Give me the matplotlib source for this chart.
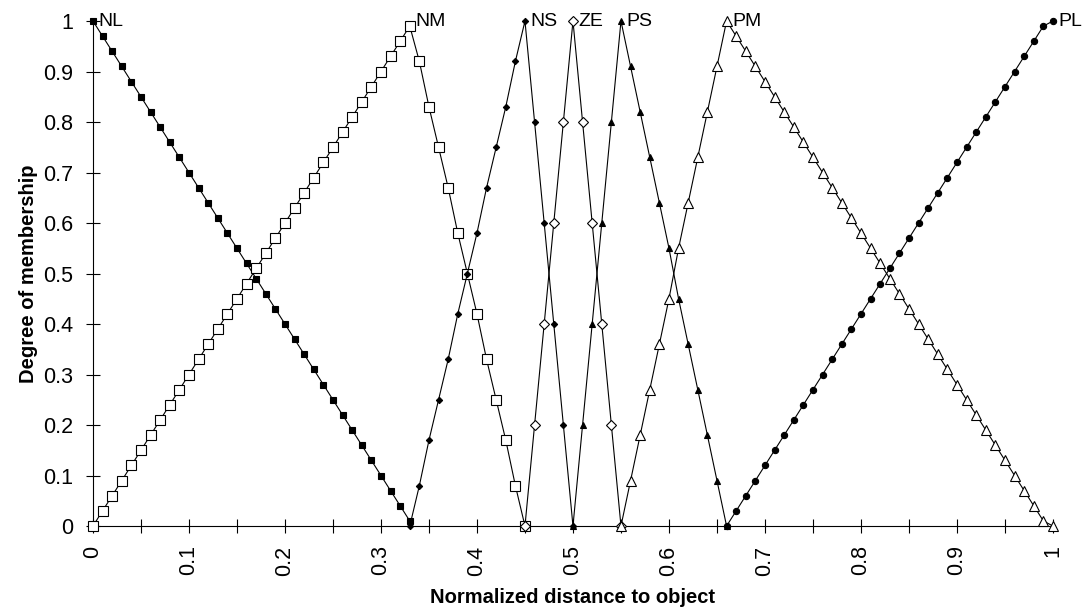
import matplotlib.pyplot as plt

plt.rcParams['font.family'] = ['Liberation Sans', 'DejaVu Sans']

# membership functions (x = normalized distance)
nl_x = [0.00, 0.01, 0.02, 0.03, 0.04, 0.05, 0.06, 0.07, 0.08, 0.09, 0.10, 0.11,
        0.12, 0.13, 0.14, 0.15, 0.16, 0.17, 0.18, 0.19, 0.20, 0.21, 0.22, 0.23,
        0.24, 0.25, 0.26, 0.27, 0.28, 0.29, 0.30, 0.31, 0.32, 0.33]
nl_y = [1.00, 0.97, 0.94, 0.91, 0.88, 0.85, 0.82, 0.79, 0.76, 0.73, 0.70, 0.67,
        0.64, 0.61, 0.58, 0.55, 0.52, 0.49, 0.46, 0.43, 0.40, 0.37, 0.34, 0.31,
        0.28, 0.25, 0.22, 0.19, 0.16, 0.13, 0.10, 0.07, 0.04, 0.01]

nm_x = [0.00, 0.01, 0.02, 0.03, 0.04, 0.05, 0.06, 0.07, 0.08, 0.09, 0.10, 0.11,
        0.12, 0.13, 0.14, 0.15, 0.16, 0.17, 0.18, 0.19, 0.20, 0.21, 0.22, 0.23,
        0.24, 0.25, 0.26, 0.27, 0.28, 0.29, 0.30, 0.31, 0.32, 0.33, 0.34, 0.35,
        0.36, 0.37, 0.38, 0.39, 0.40, 0.41, 0.42, 0.43, 0.44, 0.45]
nm_y = [0.00, 0.03, 0.06, 0.09, 0.12, 0.15, 0.18, 0.21, 0.24, 0.27, 0.30, 0.33,
        0.36, 0.39, 0.42, 0.45, 0.48, 0.51, 0.54, 0.57, 0.60, 0.63, 0.66, 0.69,
        0.72, 0.75, 0.78, 0.81, 0.84, 0.87, 0.90, 0.93, 0.96, 0.99, 0.92, 0.83,
        0.75, 0.67, 0.58, 0.50, 0.42, 0.33, 0.25, 0.17, 0.08, 0.00]

ns_x = [0.33, 0.34, 0.35, 0.36, 0.37, 0.38, 0.39, 0.40, 0.41, 0.42, 0.43, 0.44,
        0.45, 0.46, 0.47, 0.48, 0.49, 0.50]
ns_y = [0.00, 0.08, 0.17, 0.25, 0.33, 0.42, 0.50, 0.58, 0.67, 0.75, 0.83, 0.92,
        1.00, 0.80, 0.60, 0.40, 0.20, 0.00]

ze_x = [0.45, 0.46, 0.47, 0.48, 0.49, 0.50, 0.51, 0.52, 0.53, 0.54, 0.55]
ze_y = [0.00, 0.20, 0.40, 0.60, 0.80, 1.00, 0.80, 0.60, 0.40, 0.20, 0.00]

ps_x = [0.50, 0.51, 0.52, 0.53, 0.54, 0.55, 0.56, 0.57, 0.58, 0.59, 0.60, 0.61,
        0.62, 0.63, 0.64, 0.65, 0.66]
ps_y = [0.00, 0.20, 0.40, 0.60, 0.80, 1.00, 0.91, 0.82, 0.73, 0.64, 0.55, 0.45,
        0.36, 0.27, 0.18, 0.09, 0.00]

pm_x = [0.55, 0.56, 0.57, 0.58, 0.59, 0.60, 0.61, 0.62, 0.63, 0.64, 0.65, 0.66,
        0.67, 0.68, 0.69, 0.70, 0.71, 0.72, 0.73, 0.74, 0.75, 0.76, 0.77, 0.78,
        0.79, 0.80, 0.81, 0.82, 0.83, 0.84, 0.85, 0.86, 0.87, 0.88, 0.89, 0.90,
        0.91, 0.92, 0.93, 0.94, 0.95, 0.96, 0.97, 0.98, 0.99, 1.00]
pm_y = [0.00, 0.09, 0.18, 0.27, 0.36, 0.45, 0.55, 0.64, 0.73, 0.82, 0.91, 1.00,
        0.97, 0.94, 0.91, 0.88, 0.85, 0.82, 0.79, 0.76, 0.73, 0.70, 0.67, 0.64,
        0.61, 0.58, 0.55, 0.52, 0.49, 0.46, 0.43, 0.40, 0.37, 0.34, 0.31, 0.28,
        0.25, 0.22, 0.19, 0.16, 0.13, 0.10, 0.07, 0.04, 0.01, 0.00]

pl_x = [0.66, 0.67, 0.68, 0.69, 0.70, 0.71, 0.72, 0.73, 0.74, 0.75, 0.76, 0.77,
        0.78, 0.79, 0.80, 0.81, 0.82, 0.83, 0.84, 0.85, 0.86, 0.87, 0.88, 0.89,
        0.90, 0.91, 0.92, 0.93, 0.94, 0.95, 0.96, 0.97, 0.98, 0.99, 1.00]
pl_y = [0.00, 0.03, 0.06, 0.09, 0.12, 0.15, 0.18, 0.21, 0.24, 0.27, 0.30, 0.33,
        0.36, 0.39, 0.42, 0.45, 0.48, 0.51, 0.54, 0.57, 0.60, 0.63, 0.66, 0.69,
        0.72, 0.75, 0.78, 0.81, 0.84, 0.87, 0.90, 0.93, 0.96, 0.99, 1.00]

names = ["NL", "NM", "NS", "ZE", "PS", "PM", "PL"]
label_x = [0.00, 0.33, 0.45, 0.50, 0.55, 0.66, 1.00]

x_ticklabels = ["0", "", "0.1", "", "0.2", "", "0.3", "", "0.4", "", "0.5",
                "", "0.6", "", "0.7", "", "0.8", "", "0.9", "", "1"]
y_ticklabels = ["0", "0.1", "0.2", "0.3", "0.4", "0.5", "0.6", "0.7", "0.8", "0.9", "1"]

series = [
    (nl_x, nl_y, dict(marker="s", ms=4.5, mfc="black")),
    (nm_x, nm_y, dict(marker="s", ms=6.5, mfc="white")),
    (ns_x, ns_y, dict(marker="D", ms=3.2, mfc="black")),
    (ze_x, ze_y, dict(marker="D", ms=5.0, mfc="white")),
    (ps_x, ps_y, dict(marker="^", ms=4.5, mfc="black")),
    (pm_x, pm_y, dict(marker="^", ms=7.0, mfc="white")),
    (pl_x, pl_y, dict(marker="o", ms=4.5, mfc="black")),
]

fig = plt.figure(figsize=(10.86, 6.13), dpi=100)
ax = fig.add_axes([0.0856, 0.1419, 0.884, 0.8238])

for x, y, style in series:
    ax.plot(x, y, color="black", lw=0.8, mec="black", mew=0.8,
            clip_on=False, zorder=3, **style)

for name, lx in zip(names, label_x):
    ax.annotate(name, (lx, 1.0), xytext=(4, 0), textcoords="offset points",
                ha="left", va="center", fontsize=14)

ax.set_xlim(0, 1)
ax.set_ylim(0, 1)
ax.set_xticks([i * 0.05 for i in range(21)])
ax.set_xticklabels(x_ticklabels, rotation=90)
ax.set_yticks([i * 0.1 for i in range(11)])
ax.set_yticklabels(y_ticklabels)
ax.tick_params(direction="inout", length=10, width=0.8, labelsize=15.5, pad=9)

for s in ["top", "right"]:
    ax.spines[s].set_visible(False)
for s in ["left", "bottom"]:
    ax.spines[s].set_linewidth(0.8)

ax.set_xlabel("Normalized distance to object", fontsize=14.5, fontweight="bold", labelpad=9)
ax.set_ylabel("Degree of membership", fontsize=14.5, fontweight="bold", labelpad=4)

fig.savefig("out.png", dpi=100)
